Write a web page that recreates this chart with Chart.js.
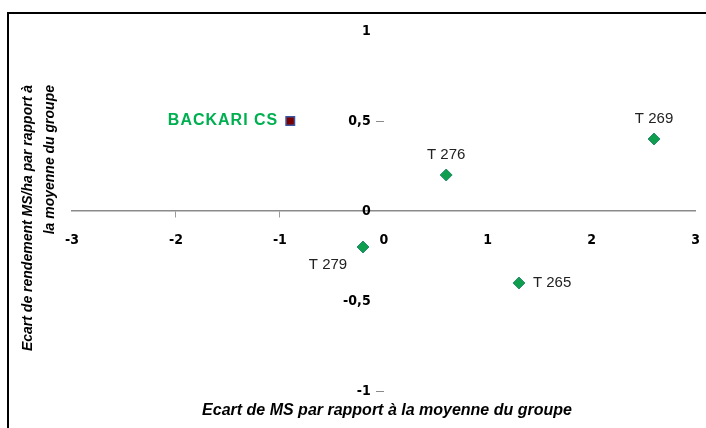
<!DOCTYPE html>
<html>
<head>
<meta charset="utf-8">
<script src="https://cdn.jsdelivr.net/npm/chart.js@4.4.1/dist/chart.umd.min.js"></script>
<style>
  html, body { margin: 0; padding: 0; background: #fff; overflow: hidden; }
  #wrap { position: relative; width: 706px; height: 428px; overflow: hidden; }
  #inner { position: absolute; left: 0; top: 0; width: 715px; height: 428px; }
</style>
</head>
<body>
<div id="wrap"><div id="inner"><canvas id="chart"></canvas></div></div>
<script>
// Genotype points (deviation from group mean)
const names = ['T 279', 'T 276', 'T 265', 'T 269'];
const msDev = [-0.2, 0.6, 1.3, 2.6];
const yieldDev = [-0.2, 0.2, -0.4, 0.4];

// Reference variety
const refName = 'BACKARI CS';
const refMsDev = [-0.9];
const refYieldDev = [0.5];

const xTicks = [-3, -2, -1, 0, 1, 2, 3];
const yTicks = [-1, -0.5, 0, 0.5, 1];

const xTitle = 'Ecart de MS par rapport à la moyenne du groupe';
const yTitle = ['Ecart de rendement MS/ha par rapport à', 'la moyenne du groupe'];

// where each point label sits relative to its marker
const labelPlace = ['belowLeft', 'above', 'right', 'above'];

const green = '#0e9e4e';

const fmt = v => String(v).replace('.', ',');

const decorations = {
  id: 'decorations',
  beforeDraw(chart) {
    const ctx = chart.ctx;
    ctx.save();
    // outer frame (Excel chart border, cropped)
    ctx.strokeStyle = '#000';
    ctx.lineWidth = 2;
    ctx.beginPath();
    ctx.moveTo(8, 430);
    ctx.lineTo(8, 13);
    ctx.lineTo(720, 13);
    ctx.stroke();
    ctx.restore();
  },
  afterDatasetsDraw(chart) {
    const ctx = chart.ctx;
    const xs = chart.scales.x, ys = chart.scales.y;
    ctx.save();
    ctx.textBaseline = 'middle';
    ctx.font = '15px "Liberation Sans", sans-serif';
    ctx.fillStyle = '#222';
    names.forEach((n, i) => {
      const px = xs.getPixelForValue(msDev[i]);
      const py = ys.getPixelForValue(yieldDev[i]);
      const p = labelPlace[i];
      if (p === 'above') {
        ctx.textAlign = 'center';
        ctx.fillText(n, px, py - 20);
      } else if (p === 'right') {
        ctx.textAlign = 'left';
        ctx.fillText(n, px + 14, py);
      } else {
        ctx.textAlign = 'center';
        ctx.fillText(n, px - 35, py + 18);
      }
    });
    // reference label
    ctx.font = 'bold 16px "Liberation Sans", sans-serif';
    ctx.letterSpacing = '1px';
    ctx.fillStyle = '#00b050';
    ctx.textAlign = 'right';
    ctx.fillText(refName, xs.getPixelForValue(refMsDev[0]) - 12, ys.getPixelForValue(refYieldDev[0]));
    ctx.letterSpacing = '0px';

    // axis titles
    ctx.fillStyle = '#000';
    ctx.font = 'italic bold 16px "Liberation Sans", sans-serif';
    ctx.textAlign = 'center';
    ctx.fillText(xTitle, 387, 411);
    ctx.font = 'italic bold 14px "Liberation Sans", sans-serif';
    ctx.rotate(-Math.PI / 2);
    ctx.textAlign = 'right';
    ctx.fillText(yTitle[0], -85, 28);
    ctx.fillText(yTitle[1], -85, 50);
    ctx.restore();
  }
};

new Chart(document.getElementById('chart'), {
  type: 'scatter',
  data: {
    datasets: [
      {
        label: 'Génotypes',
        data: msDev.map((x, i) => ({ x: x, y: yieldDev[i] })),
        pointStyle: 'rectRot',
        pointRadius: 6,
        backgroundColor: green,
        borderColor: '#2a8a70',
        borderWidth: 1
      },
      {
        label: refName,
        data: refMsDev.map((x, i) => ({ x: x, y: refYieldDev[i] })),
        pointStyle: 'rect',
        pointRadius: 6,
        backgroundColor: '#7a0000',
        borderColor: '#3a56a0',
        borderWidth: 1.5
      }
    ]
  },
  options: {
    responsive: true,
    maintainAspectRatio: false,
    animation: false,
    layout: { padding: { left: 72, right: 4, top: 31, bottom: 37 } },
    plugins: {
      legend: { display: false },
      tooltip: { enabled: false }
    },
    scales: {
      x: {
        type: 'linear',
        position: { y: 0 },
        min: -3,
        max: 3,
        afterBuildTicks: s => { s.ticks = xTicks.map(v => ({ value: v })); },
        border: { display: true, color: '#8a8a8a', width: 1.5 },
        grid: {
          drawOnChartArea: false,
          tickLength: 6,
          color: c => (c.tick && (c.tick.value === -2 || c.tick.value === -1)) ? '#9a9a9a' : 'rgba(0,0,0,0)'
        },
        ticks: {
          padding: 15,
          color: '#000',
          font: { family: '"DejaVu Sans Condensed", sans-serif', weight: 'bold', size: 14 },
          callback: v => fmt(v)
        }
      },
      y: {
        type: 'linear',
        position: { x: 0 },
        min: -1,
        max: 1,
        afterBuildTicks: s => { s.ticks = yTicks.map(v => ({ value: v })); },
        border: { display: false },
        grid: {
          drawOnChartArea: false,
          tickLength: 8,
          color: c => (c.tick && (c.tick.value === 0.5 || c.tick.value === -1)) ? '#8a8a8a' : 'rgba(0,0,0,0)'
        },
        ticks: {
          padding: 8,
          color: '#000',
          font: { family: '"DejaVu Sans Condensed", sans-serif', weight: 'bold', size: 14 },
          // centred axis labels ignore padding, so pad them with spaces
          callback: v => fmt(v) + '   '
        }
      }
    }
  },
  plugins: [decorations]
});
</script>
</body>
</html>
